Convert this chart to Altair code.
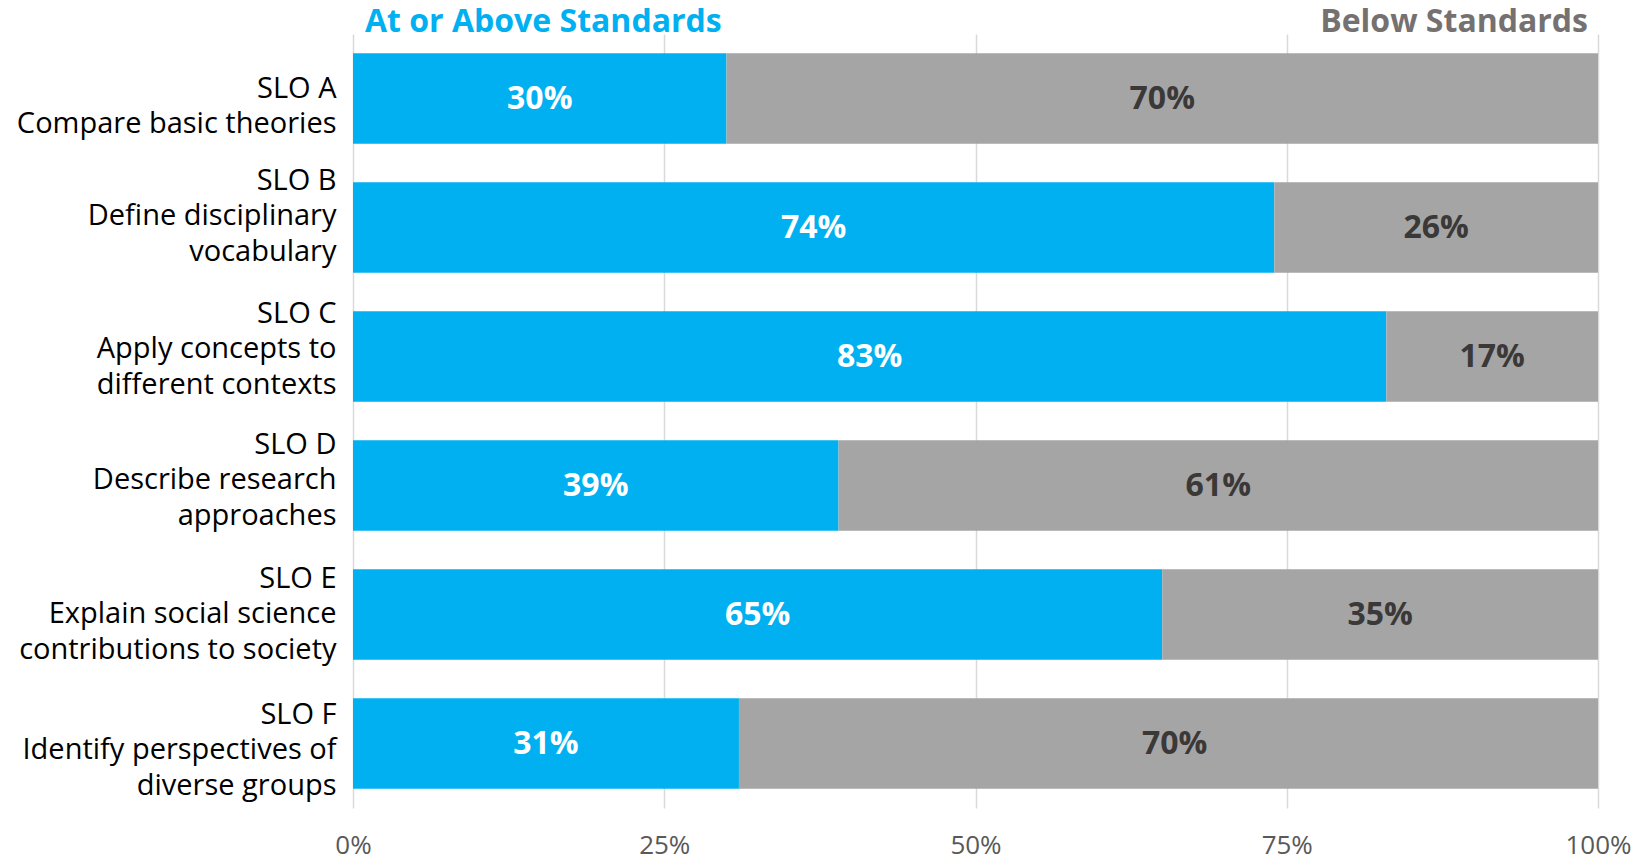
import altair as alt
import pandas as pd

slo_codes = ["SLO A", "SLO B", "SLO C", "SLO D", "SLO E", "SLO F"]
slo_desc = [
    "Compare basic theories",
    "Define disciplinary|vocabulary",
    "Apply concepts to|different contexts",
    "Describe research|approaches",
    "Explain social science|contributions to society",
    "Identify perspectives of|diverse groups",
]
above = [30, 74, 83, 39, 65, 31]
below = [70, 26, 17, 61, 35, 70]
categories = ["At or Above Standards", "Below Standards"]
x_ticks = [0, 25, 50, 75, 100]

BLUE = "#00B0F0"
GREY = "#A5A5A5"
FONT = "Open Sans"

rows = []
for i, (c, d) in enumerate(zip(slo_codes, slo_desc)):
    key = c + "|" + d
    rows.append({"key": key, "cat": categories[0], "ord": 0, "value": above[i]})
    rows.append({"key": key, "cat": categories[1], "ord": 1, "value": below[i]})
df = pd.DataFrame(rows)
y_order = [c + "|" + d for c, d in zip(slo_codes, slo_desc)]

base = alt.Chart(df).transform_stack(
    stack="value", groupby=["key"], sort=[alt.SortField("ord")], as_=["x0", "x1"]
).transform_calculate(
    mid="(datum.x0 + datum.x1) / 2",
    lab="datum.value + '%'",
)

yenc = alt.Y(
    "key:N",
    sort=y_order,
    scale=alt.Scale(paddingInner=0.3, paddingOuter=0.15),
    axis=alt.Axis(
        title=None,
        domain=False,
        ticks=False,
        grid=False,
        labelExpr="split(datum.label, '|')",
        labelFont=FONT,
        labelFontSize=29,
        labelColor="#000000",
        labelLineHeight=35.5,
        labelPadding=17,
        labelLimit=450,
        labelAlign="right",
        labelBaseline="middle",
        labelOffset={
            "condition": [
                {"test": "indexof(datum.value, 'SLO A') == 0", "value": -10},
                {"test": "indexof(datum.value, 'SLO B') == 0", "value": -47},
                {"test": "indexof(datum.value, 'SLO C') == 0", "value": -43},
                {"test": "indexof(datum.value, 'SLO E') == 0", "value": -36},
                {"test": "indexof(datum.value, 'SLO F') == 0", "value": -29},
            ],
            "value": -41,
        },
    ),
)

xscale = alt.Scale(domain=[0, 100], nice=False)

bars = base.mark_bar(clip=True).encode(
    x=alt.X(
        "x0:Q",
        scale=xscale,
        axis=alt.Axis(
            values=x_ticks,
            labelExpr="datum.value + '%'",
            title=None,
            domain=False,
            ticks=False,
            grid=True,
            gridColor="#D9D9D9",
            gridWidth=1.5,
            labelFont=FONT,
            labelFontSize=26,
            labelColor="#595959",
            labelPadding=24,
            labelFlush=False,
        ),
    ),
    x2="x1:Q",
    y=yenc,
    color=alt.Color(
        "cat:N",
        scale=alt.Scale(domain=categories, range=[BLUE, GREY]),
        legend=None,
    ),
)

labels = base.mark_text(font=FONT, fontSize=32, fontWeight="bold").encode(
    x=alt.X("mid:Q", scale=xscale),
    y=alt.Y("key:N", sort=y_order),
    text="lab:N",
    color=alt.Color(
        "cat:N",
        scale=alt.Scale(domain=categories, range=["#FFFFFF", "#3B3838"]),
        legend=None,
    ),
)

title_df = pd.DataFrame({"cat": categories, "pos": [0, 100]})
title_left = alt.Chart(title_df.iloc[[0]]).mark_text(
    font=FONT, fontSize=32, fontWeight="bold", align="left", baseline="alphabetic",
    dx=12, color=BLUE,
).encode(x=alt.X("pos:Q", scale=xscale), y=alt.value(-2), text="cat:N")
title_right = alt.Chart(title_df.iloc[[1]]).mark_text(
    font=FONT, fontSize=32, fontWeight="bold", align="right", baseline="alphabetic",
    dx=-10, color="#767171",
).encode(x=alt.X("pos:Q", scale=xscale), y=alt.value(-2), text="cat:N")

chart = alt.layer(bars, labels, title_left, title_right).resolve_scale(
    color="independent"
).properties(
    width=1245,
    height=774,
    autosize=alt.AutoSizeParams(type="none"),
    padding={"left": 345, "top": 26, "right": 38, "bottom": 54},
).configure_view(stroke=None)

chart.save("out.html", embed_options={"renderer": "svg", "actions": False})
